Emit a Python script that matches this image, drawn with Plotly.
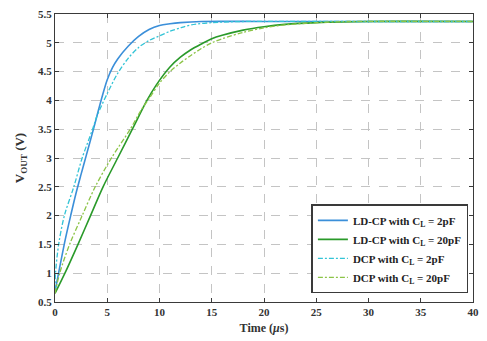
import plotly.graph_objects as go

# Output voltage transients (time in microseconds, voltage in volts)
t_ldcp_2p = [0, 0.5, 1.0, 1.5, 2.0, 2.5, 3.0, 3.5, 4.0, 4.5, 5.0, 5.5, 6.0, 7.0, 8.0, 9.0, 10.0, 11.0, 12.0, 14.0, 20.0, 30.0, 40.0]
v_ldcp_2p = [0.68, 1.15, 1.6, 2.0, 2.38, 2.72, 3.05, 3.38, 3.72, 4.06, 4.36, 4.57, 4.72, 4.94, 5.11, 5.23, 5.3, 5.33, 5.35, 5.37, 5.37, 5.37, 5.37]

t_ldcp_20p = [0, 0.95, 2.2, 3.4, 4.6, 6.0, 7.4, 8.8, 9.7, 11.0, 12.0, 13.0, 14.0, 15.0, 16.0, 18.0, 20.0, 22.0, 25.0, 30.0, 40.0]
v_ldcp_20p = [0.65, 1.0, 1.5, 2.0, 2.5, 3.0, 3.5, 4.0, 4.27, 4.58, 4.75, 4.88, 4.98, 5.07, 5.13, 5.22, 5.28, 5.32, 5.35, 5.37, 5.37]

t_dcp_2p = [0, 0.05, 0.35, 0.9, 1.8, 2.6, 3.6, 4.0, 5.0, 6.0, 7.0, 8.0, 9.0, 10.0, 11.0, 12.0, 13.0, 15.0, 18.0, 30.0, 40.0]
v_dcp_2p = [0.7, 1.0, 1.5, 2.0, 2.5, 3.0, 3.5, 3.72, 4.12, 4.47, 4.73, 4.92, 5.04, 5.12, 5.2, 5.26, 5.31, 5.35, 5.37, 5.37, 5.37]

t_dcp_20p = [0, 0.45, 1.4, 2.6, 3.85, 5.4, 7.2, 8.3, 9.0, 10.0, 11.0, 12.0, 13.0, 14.0, 15.0, 16.0, 18.0, 20.0, 22.0, 25.0, 28.0, 40.0]
v_dcp_20p = [0.65, 1.0, 1.5, 2.0, 2.5, 3.0, 3.5, 3.85, 4.03, 4.3, 4.5, 4.65, 4.78, 4.9, 5.0, 5.07, 5.18, 5.26, 5.31, 5.35, 5.37, 5.37]

x_ticks = [0, 5, 10, 15, 20, 25, 30, 35, 40]
x_tick_text = ["0", "5", "10", "15", "20", "25", "30", "35", "40"]
y_ticks = [0.5, 1, 1.5, 2, 2.5, 3, 3.5, 4, 4.5, 5, 5.5]
y_tick_text = ["0.5", "1", "1.5", "2", "2.5", "3", "3.5", "4", "4.5", "5", "5.5"]

SERIF = "Liberation Serif, Times New Roman, serif"

fig = go.Figure()

series = [
    (t_ldcp_2p, v_ldcp_2p, "LD-CP with C<sub>L</sub> = 2pF", "#3b8fd9", "solid", 1.6),
    (t_ldcp_20p, v_ldcp_20p, "LD-CP with C<sub>L</sub> = 20pF", "#2a9a2a", "solid", 1.6),
    (t_dcp_2p, v_dcp_2p, "DCP with C<sub>L</sub> = 2pF", "#33c4d6", "5px,2px,2px,2px", 1.3),
    (t_dcp_20p, v_dcp_20p, "DCP with C<sub>L</sub> = 20pF", "#8cc447", "5px,2px,2px,2px", 1.3),
]
for tx, vy, name, color, dash, width in series:
    fig.add_trace(go.Scatter(
        x=tx, y=vy, name=name, mode="lines",
        line=dict(color=color, dash=dash, width=width, shape="spline", smoothing=0.9),
    ))

axis_common = dict(
    showline=True, mirror="ticks", linecolor="#3a3a3a", linewidth=1.2,
    ticks="inside", ticklen=4, tickcolor="#3a3a3a",
    showgrid=True, gridcolor="#c4c4c4", griddash="dash", gridwidth=1,
    zeroline=False,
    tickfont=dict(family=SERIF, size=11, color="#333333", weight="bold"),
)

fig.update_xaxes(
    range=[0, 40], tickvals=x_ticks, ticktext=x_tick_text,
    title=dict(text="Time (<i>μ</i>s)", font=dict(family=SERIF, size=12, color="#333333", weight="bold"), standoff=6),
    **axis_common,
)
fig.update_yaxes(
    range=[0.5, 5.5], tickvals=y_ticks, ticktext=y_tick_text,
    title=dict(text="V<sub>OUT</sub> (V)", font=dict(family=SERIF, size=13, color="#333333", weight="bold"), standoff=10),
    **axis_common,
)

fig.update_layout(
    width=487, height=341,
    margin=dict(l=55, r=11, t=8, b=39),
    paper_bgcolor="white", plot_bgcolor="white",
    showlegend=True,
    legend=dict(
        x=0.989, y=0.03, xanchor="right", yanchor="bottom",
        bgcolor="white", bordercolor="#3a3a3a", borderwidth=1.5,
        font=dict(family=SERIF, size=11, color="#222222", weight="bold"),
        tracegroupgap=0, itemwidth=30,
    ),
)

fig.write_html("out.html")
